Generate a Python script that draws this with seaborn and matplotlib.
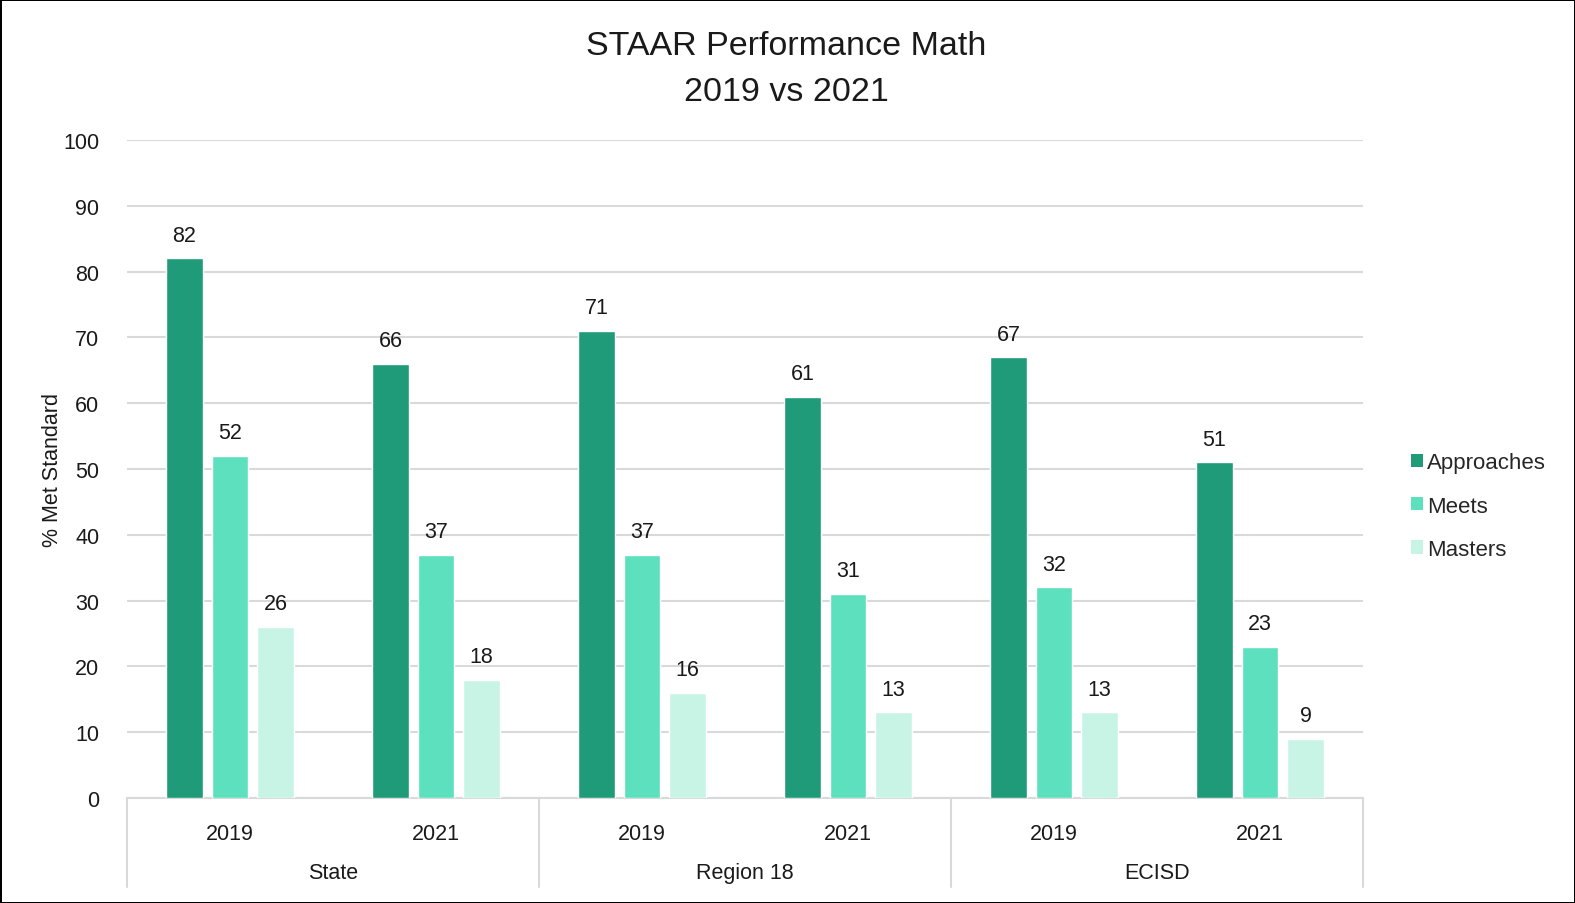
import matplotlib.pyplot as plt
import pandas as pd
import seaborn as sns
from matplotlib.patches import Patch

regions = ['State', 'Region 18', 'ECISD']
years = ['2019', '2021']
levels = ['Approaches', 'Meets', 'Masters']
approaches = [82, 66, 71, 61, 67, 51]
meets = [52, 37, 37, 31, 32, 23]
masters = [26, 18, 16, 13, 13, 9]
colors = ['#1f9b79', '#5ce0be', '#c8f4e6']

rows = []
keys = []
for i, reg in enumerate(regions):
    for j, yr in enumerate(years):
        k = i * 2 + j
        key = f'{reg} {yr}'
        keys.append(key)
        for lvl, vals in zip(levels, [approaches, meets, masters]):
            rows.append({'key': key, 'level': lvl, 'value': vals[k]})
df = pd.DataFrame(rows)

sns.set_style('white')
plt.rcParams['font.family'] = ['Liberation Sans', 'DejaVu Sans']

fig = plt.figure(figsize=(15.75, 9.04), dpi=100)
fig.patch.set_edgecolor('black')
fig.patch.set_linewidth(2)
ax = fig.add_axes([0.0806, 0.1162, 0.7848, 0.7278])

sns.barplot(data=df, x='key', y='value', hue='level', order=keys, hue_order=levels,
            palette=colors, saturation=1, width=0.663, gap=0.2, errorbar=None,
            legend=False, ax=ax, zorder=3)

for cont in ax.containers:
    ax.bar_label(cont, padding=9, fontsize=15.5, color='#1a1a1a')

ax.set_ylim(0, 100)
ax.set_xlim(-0.5, 5.5)
ax.set_yticks(range(0, 101, 10))
ax.yaxis.grid(True, color='#d9d9d9', linewidth=1.5, zorder=0)
ax.tick_params(axis='y', labelsize=15.5, length=0, pad=20, colors='#1a1a1a')
ax.set_xticks(range(6))
ax.set_xticklabels(years * 3)
ax.tick_params(axis='x', labelsize=15.5, length=0, pad=18, colors='#1a1a1a')
for s in ['top', 'right', 'left']:
    ax.spines[s].set_visible(False)
ax.spines['bottom'].set_color('#d9d9d9')
ax.spines['bottom'].set_linewidth(1.5)
ax.set_xlabel('')
ax.set_ylabel('% Met Standard', fontsize=15.5, labelpad=0, color='#1a1a1a')

# group separators and region labels below the axis
trans = ax.get_xaxis_transform()
for xb in [-0.5, 1.5, 3.5, 5.5]:
    ax.plot([xb, xb], [0, -0.135], transform=trans, color='#d9d9d9',
            linewidth=1.5, clip_on=False)
for i, reg in enumerate(regions):
    ax.text(i * 2 + 0.5, -0.113, reg, transform=trans, ha='center', va='center',
            fontsize=15.5, color='#1a1a1a')

fig.text(0.499, 0.923, 'STAAR Performance Math\n2019 vs 2021', ha='center', va='center',
         fontsize=24.5, linespacing=1.6, color='#1a1a1a')

handles = [Patch(facecolor=c, edgecolor='none', label=l) for c, l in zip(colors, levels)]
fig.legend(handles=handles, loc='center left', bbox_to_anchor=(0.883, 0.439),
           frameon=False, fontsize=16, handlelength=0.55, handleheight=0.55,
           handletextpad=0.2, labelspacing=1.0)

fig.savefig('out.png', dpi=100)
